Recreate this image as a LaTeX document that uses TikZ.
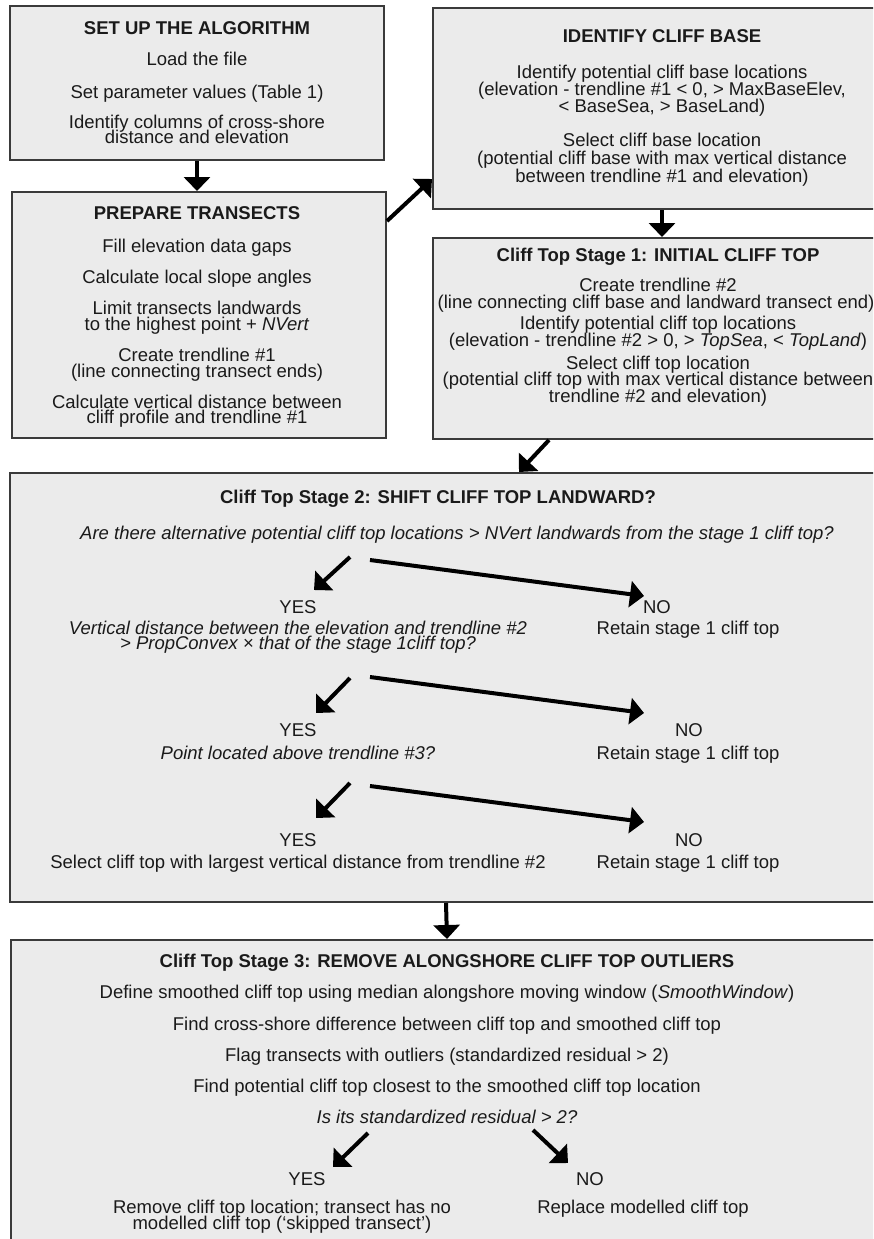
\documentclass[tikz,border=0pt]{standalone}
\usepackage{fontspec}
\setmainfont{Liberation Sans}
\usetikzlibrary{arrows.meta}
\definecolor{boxfill}{HTML}{EBEBEB}
\definecolor{boxline}{HTML}{3A3A3A}
\definecolor{ink}{HTML}{1A1A1A}
\begin{document}
\begin{tikzpicture}[x=1pt,y=-1pt,
  box/.style={draw=boxline,line width=2pt,fill=boxfill,rectangle,inner sep=0pt},
  txt/.style={anchor=base,inner sep=0pt,text height=11pt,text depth=3.3pt,text=ink,font=\fontsize{18.5}{15.5}\selectfont},
  ttl/.style={txt,font=\fontsize{18.5}{15.5}\selectfont\bfseries},
  itl/.style={txt,font=\fontsize{18.5}{15.5}\selectfont\itshape},
  arr/.style={draw=black,line width=4pt,-{Triangle[length=14pt,width=26pt]}}]
\useasboundingbox (0,0) rectangle (873,1239);
\clip (0,0) rectangle (873,1239);
\fill[white] (0,0) rectangle (873,1239);

% boxes
\node[box,minimum width=374pt,minimum height=154pt] (b1) at (197,83) {};
\node[box,minimum width=374pt,minimum height=246pt] (b2) at (199,315) {};
\node[box,minimum width=458pt,minimum height=201pt] (b3) at (662,108.5) {};
\node[box,minimum width=458pt,minimum height=201pt] (b4) at (662,338.5) {};
\node[box,minimum width=875pt,minimum height=429pt] (b5) at (447.5,687.5) {};
\node[box,minimum width=874pt,minimum height=320pt] (b6) at (448,1100) {};

% box 1
\node[ttl] (t1) at (197,35) {SET UP THE ALGORITHM};
\node[txt] (t1a) at (197,66) {Load the file};
\node[txt] (t1b) at (197,98) {Set parameter values (Table 1)};
\node[txt] (t1c) at (197,128) {Identify columns of cross-shore};
\node[txt] (t1d) at (197,143) {distance and elevation};

% box 2
\node[ttl] (t2) at (197,219) {PREPARE TRANSECTS};
\node[txt] (t2a) at (197,252) {Fill elevation data gaps};
\node[txt] (t2b) at (197,283) {Calculate local slope angles};
\node[txt] (t2c) at (197,314) {Limit transects landwards};
\node[txt] (t2d) at (197,330) {to the highest point + \textit{NVert}};
\node[txt] (t2e) at (197,361) {Create trendline \#1};
\node[txt] (t2f) at (197,377) {(line connecting transect ends)};
\node[txt] (t2g) at (197,408) {Calculate vertical distance between};
\node[txt] (t2h) at (197,423) {cliff profile and trendline \#1};

% box 3
\node[ttl] (t3) at (662,43) {IDENTIFY CLIFF BASE};
\node[txt] (t3a) at (662,78) {Identify potential cliff base locations};
\node[txt] (t3b) at (662,95.5) {(elevation - trendline \#1 < 0, > MaxBaseElev,};
\node[txt] (t3c) at (662,112.5) {< BaseSea, > BaseLand)};
\node[txt] (t3d) at (662,146) {Select cliff base location};
\node[txt] (t3e) at (662,164) {(potential cliff base with max vertical distance};
\node[txt] (t3f) at (662,182) {between trendline \#1 and elevation)};

% box 4
\node[ttl] (t4) at (658,261) {Cliff Top Stage 1: INITIAL CLIFF TOP};
\node[txt] (t4a) at (658,291) {Create trendline \#2};
\node[txt] (t4b) at (656,308) {(line connecting cliff base and landward transect end)};
\node[txt] (t4c) at (658,329) {Identify potential cliff top locations};
\node[txt] (t4d) at (658,346) {(elevation - trendline \#2 > 0, > \textit{TopSea}, < \textit{TopLand})};
\node[txt] (t4e) at (658,369) {Select cliff top location};
\node[txt] (t4f) at (658,385) {(potential cliff top with max vertical distance between};
\node[txt] (t4g) at (658,402) {trendline \#2 and elevation)};

% box 5
\node[ttl] (t5) at (438,503) {Cliff Top Stage 2: SHIFT CLIFF TOP LANDWARD?};
\node[itl] (q1) at (457,539) {Are there alternative potential cliff top locations > NVert landwards from the stage 1 cliff top?};
\node[txt] (y1) at (298,613) {YES};
\node[itl] (q2a) at (298,634) {Vertical distance between the elevation and trendline \#2};
\node[itl] (q2b) at (298,649) {> PropConvex × that of the stage 1cliff top?};
\node[txt] (n1) at (657,613) {NO};
\node[txt] (r1) at (688,634) {Retain stage 1 cliff top};
\node[txt] (y2) at (298,736) {YES};
\node[itl] (q3) at (298,759) {Point located above trendline \#3?};
\node[txt] (n2) at (689,736) {NO};
\node[txt] (r2) at (688,759) {Retain stage 1 cliff top};
\node[txt] (y3) at (298,846) {YES};
\node[txt] (s3) at (298,868) {Select cliff top with largest vertical distance from trendline \#2};
\node[txt] (n3) at (689,846) {NO};
\node[txt] (r3) at (688,868) {Retain stage 1 cliff top};

% box 6
\node[ttl] (t6) at (447,967) {Cliff Top Stage 3: REMOVE ALONGSHORE CLIFF TOP OUTLIERS};
\node[txt] (t6a) at (447,998) {Define smoothed cliff top using median alongshore moving window (\textit{SmoothWindow})};
\node[txt] (t6b) at (447,1030) {Find cross-shore difference between cliff top and smoothed cliff top};
\node[txt] (t6c) at (447,1061) {Flag transects with outliers (standardized residual > 2)};
\node[txt] (t6d) at (447,1092) {Find potential cliff top closest to the smoothed cliff top location};
\node[itl] (q4) at (447,1123) {Is its standardized residual > 2?};
\node[txt] (y4) at (307,1185) {YES};
\node[txt] (n4) at (590,1185) {NO};
\node[txt] (y4a) at (282,1213) {Remove cliff top location; transect has no};
\node[txt] (y4b) at (282,1229) {modelled cliff top (‘skipped transect’)};
\node[txt] (n4a) at (643,1213) {Replace modelled cliff top};

% arrow end points
\coordinate (y1s) at (350,557); \coordinate (y1e) at (314,590);
\coordinate (n1s) at (370,560); \coordinate (n1e) at (644,596);
\coordinate (y2s) at (350,678); \coordinate (y2e) at (316,713);
\coordinate (n2s) at (370,677); \coordinate (n2e) at (644,713);
\coordinate (y3s) at (350,783); \coordinate (y3e) at (316,818);
\coordinate (n3s) at (370,786); \coordinate (n3e) at (644,822);
\coordinate (y4s) at (368,1133); \coordinate (y4e) at (333,1167);
\coordinate (n4s) at (533,1130); \coordinate (n4e) at (568,1163);

% arrows
\draw[arr] (b1.south) -- (b1.south |- b2.north);
\draw[arr] ([yshift=-30pt]b2.north east) -- ([yshift=31pt]b3.south west);
\draw[arr] (b3.south) -- (b4.north);
\draw[arr] ([xshift=117pt]b4.south west) -- ([xshift=510pt]b5.north west);
\draw[arr] ([xshift=437pt]b5.south west) -- ([xshift=437pt]b6.north west);
\draw[arr] (y1s) -- (y1e);
\draw[arr] (n1s) -- (n1e);
\draw[arr] (y2s) -- (y2e);
\draw[arr] (n2s) -- (n2e);
\draw[arr] (y3s) -- (y3e);
\draw[arr] (n3s) -- (n3e);
\draw[arr] (y4s) -- (y4e);
\draw[arr] (n4s) -- (n4e);
\end{tikzpicture}
\end{document}
